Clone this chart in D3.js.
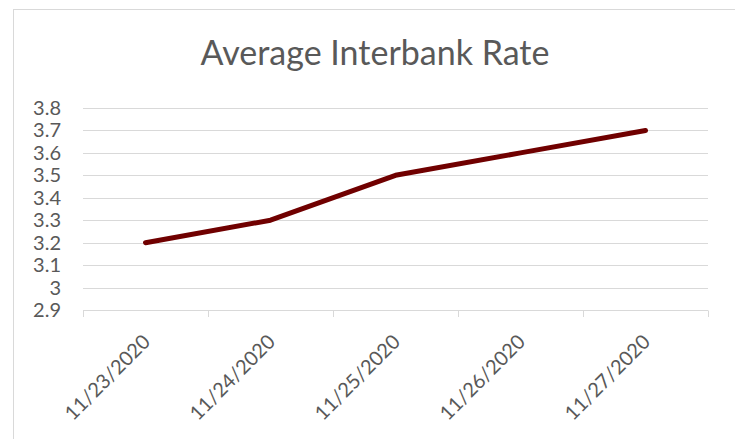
<!DOCTYPE html>
<html>
<head>
<meta charset="utf-8">
<script src="https://cdn.jsdelivr.net/npm/d3@7"></script>
<style>
  html, body { margin: 0; padding: 0; background: #fff; }
  svg { display: block; }
  text { font-family: Lato, "Open Sans", sans-serif; fill: #595959; }
</style>
</head>
<body>
<svg id="chart" width="735" height="439"></svg>
<script>
const title = "Average Interbank Rate";
const categories = ["11/23/2020", "11/24/2020", "11/25/2020", "11/26/2020", "11/27/2020"];
const values = [3.2, 3.3, 3.5, 3.6, 3.7];
const yTicks = [2.9, 3.0, 3.1, 3.2, 3.3, 3.4, 3.5, 3.6, 3.7, 3.8];
const yTickLabels = ["2.9", "3", "3.1", "3.2", "3.3", "3.4", "3.5", "3.6", "3.7", "3.8"];

const svg = d3.select("#chart");
const W = 735, H = 439;
const plot = { left: 83, right: 708, top: 108, bottom: 310 };

// outer chart border (left and top visible)
svg.append("rect")
  .attr("x", 13.5).attr("y", 9.5)
  .attr("width", W).attr("height", H)
  .attr("fill", "none").attr("stroke", "#d9d9d9").attr("stroke-width", 1);

const x = d3.scaleBand().domain(categories).range([plot.left, plot.right]).padding(0);
const y = d3.scaleLinear().domain([2.9, 3.8]).range([plot.bottom, plot.top]);

// gridlines
svg.append("g").selectAll("line").data(yTicks).join("line")
  .attr("x1", plot.left).attr("x2", plot.right)
  .attr("y1", d => Math.round(y(d)) + 0.5).attr("y2", d => Math.round(y(d)) + 0.5)
  .attr("stroke", "#d9d9d9").attr("stroke-width", 1);

// x tick marks at band boundaries
const boundaries = categories.map(c => x(c)).concat([x(categories[categories.length - 1]) + x.bandwidth()]);
svg.append("g").selectAll("line").data(boundaries).join("line")
  .attr("x1", d => Math.round(d) + 0.5).attr("x2", d => Math.round(d) + 0.5)
  .attr("y1", Math.round(y(2.9)) + 0.5).attr("y2", Math.round(y(2.9)) + 7)
  .attr("stroke", "#d9d9d9").attr("stroke-width", 1);

// y labels
svg.append("g").selectAll("text").data(yTicks).join("text")
  .attr("x", 61).attr("y", d => y(d) + 7)
  .attr("text-anchor", "end")
  .style("font-size", "20px")
  .text((d, i) => yTickLabels[i]);

// x labels
svg.append("g").selectAll("text").data(categories).join("text")
  .attr("transform", d => `translate(${x(d) + x.bandwidth() / 2 + 6},${plot.bottom + 33}) rotate(-45)`)
  .attr("text-anchor", "end")
  .style("font-size", "20px")
  .text(d => d);

// line
const line = d3.line()
  .x((d, i) => x(categories[i]) + x.bandwidth() / 2)
  .y(d => y(d));
svg.append("path").datum(values)
  .attr("d", line)
  .attr("fill", "none")
  .attr("stroke", "#700000")
  .attr("stroke-width", 5)
  .attr("stroke-linecap", "round")
  .attr("stroke-linejoin", "round");

// title
svg.append("text")
  .attr("x", 375).attr("y", 65)
  .attr("text-anchor", "middle")
  .style("font-size", "34px")
  .text(title);
</script>
</body>
</html>
